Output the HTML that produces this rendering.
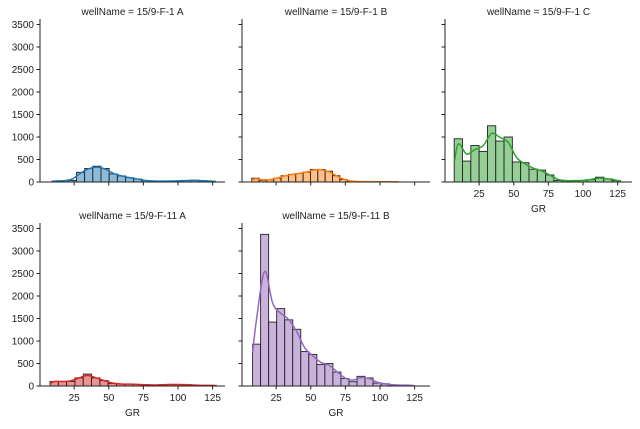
<!DOCTYPE html>
<html><head><meta charset="utf-8"><style>
body{margin:0;background:#fff;}
svg text{font-family:"Liberation Sans","DejaVu Sans",sans-serif;font-size:10px;fill:#222;}
</style></head><body>
<svg id="c" width="640" height="424" xmlns="http://www.w3.org/2000/svg"></svg>
<script>
const wells=["15/9-F-1 A","15/9-F-1 B","15/9-F-1 C","15/9-F-11 A","15/9-F-11 B"];
const binStarts=[9,7.4,7,7.6,8];
const binWidths=[5.9,5.3,6,6,5.8];
const countsA=[20,30,35,215,300,350,300,180,135,95,65,30,20,20,20,25,35,40,30,15];
const countsB=[85,35,50,85,140,170,190,220,280,280,240,140,55,15,10,8,8,6,5,3];
const countsC=[960,465,810,680,1250,910,1000,445,430,285,265,157,35,30,30,35,50,107,70,30];
const countsD=[100,100,100,180,265,180,120,57,43,43,35,28,20,28,35,35,28,20,14,14];
const countsE=[930,3370,1420,1720,1470,1260,765,700,480,500,310,165,95,215,180,65,50,25,20,15];
const yTicks=[0,500,1000,1500,2000,2500,3000,3500];
const xTicks=[25,50,75,100,125];
const allCounts=[countsA,countsB,countsC,countsD,countsE];
const fills=["#8fbbd9","#ffbf86","#95cf95","#eb9293","#c9b3dd"];
const lines=["#1f77b4","#ff7f0e","#2ca02c","#d62728","#9467bd"];
const panels=[{l:40,r:225,t:19,b:182,yl:true,xl:false},{l:242,r:430,t:19,b:182,yl:false,xl:false},{l:445,r:632,t:19,b:182,yl:false,xl:true},{l:40,r:225,t:223,b:386,yl:true,xl:true},{l:242,r:430,t:223,b:386,yl:false,xl:true}];
const svg=document.getElementById('c');
const NS="http://www.w3.org/2000/svg";
function mk(tag,at,parent){const e=document.createElementNS(NS,tag);for(const k in at)e.setAttribute(k,at[k]);(parent||svg).appendChild(e);return e;}
panels.forEach((p,i)=>{
  const g=mk('g',{});
  
  
  const x0=p.l-0.5, xs=1.385;
  const X=v=>x0+v*xs;
  const Y=v=>p.b-v*0.045;
  const counts=allCounts[i];
  counts.forEach((c,k)=>{
    const a=binStarts[i]+k*binWidths[i];
    const r=mk('rect',{x:X(a),y:Y(c),width:binWidths[i]*xs,height:p.b-Y(c),fill:fills[i],stroke:"#222","stroke-width":0.9},g);
    
    
  });
  const sm=counts.map((c,k)=>{let s=0,w=0;for(let j=-1;j<=1;j++){const v=counts[k+j];if(v!==undefined){const ww=j?0.3:1;s+=v*ww;w+=ww;}}return s/w;});
  const pts=sm.map((c,k)=>[X(binStarts[i]+(k+0.5)*binWidths[i]),Y(c)]);
  pts.unshift([X(binStarts[i]),Y(sm[0]*0.5)]);
  pts.push([X(binStarts[i]+counts.length*binWidths[i]),Y(sm[sm.length-1]*0.5)]);
  let d='M'+pts[0][0]+','+pts[0][1];
  for(let k=0;k<pts.length-1;k++){const p0=pts[k-1]||pts[k],p1=pts[k],p2=pts[k+1],p3=pts[k+2]||p2;
    d+=` C${p1[0]+(p2[0]-p0[0])/6},${p1[1]+(p2[1]-p0[1])/6} ${p2[0]-(p3[0]-p1[0])/6},${p2[1]-(p3[1]-p1[1])/6} ${p2[0]},${p2[1]}`;}
  const kp=mk('path',{d:d,fill:"none",stroke:lines[i],"stroke-width":1.5},g);
  
  
  const ax=mk('path',{d:`M${p.l},${p.t}V${p.b}H${p.r}`,fill:"none",stroke:"#222","stroke-width":1},g);
  
  
  yTicks.forEach(t=>{
    mk('line',{x1:p.l-3.5,x2:p.l,y1:Y(t),y2:Y(t),stroke:"#222"},g);
    if(p.yl){const tx=mk('text',{x:p.l-6,y:Y(t)+3.5,'text-anchor':'end'},g);tx.textContent=t;
      
      }
  });
  xTicks.forEach(t=>{
    mk('line',{x1:X(t),x2:X(t),y1:p.b,y2:p.b+3.5,stroke:"#222"},g);
    if(p.xl){const tx=mk('text',{x:X(t),y:p.b+15,'text-anchor':'middle'},g);tx.textContent=t;
      
      }
  });
  if(p.xl){const xt=mk('text',{x:(p.l+p.r)/2,y:p.b+30,'text-anchor':'middle'},g);xt.textContent='GR';
    
    }
  const ti=mk('text',{x:(p.l+p.r)/2,y:p.t-4,'text-anchor':'middle'},g);ti.textContent='wellName = '+wells[i];
  
  
});
</script>
</body></html>
